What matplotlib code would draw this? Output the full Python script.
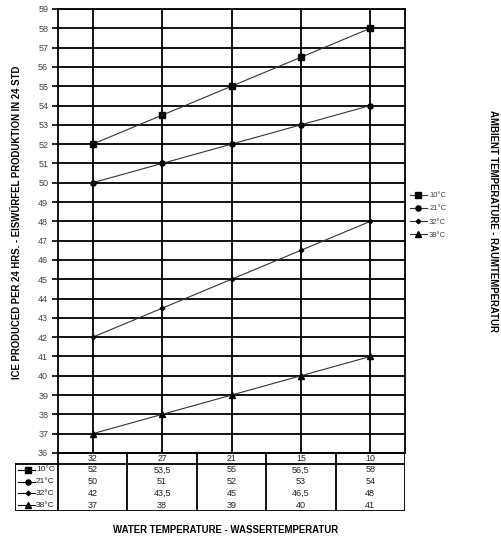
import matplotlib

matplotlib.use("Agg")
import matplotlib.pyplot as plt  # noqa: E402

plt.rcParams["font.family"] = ["Liberation Sans", "DejaVu Sans"]

# water temperature categories (x) and ice production per ambient temperature
water_temps = ["32", "27", "21", "15", "10"]
series_names = ["10°C", "21°C", "32°C", "38°C"]
ice_10 = [52, 53.5, 55, 56.5, 58]
ice_21 = [50, 51, 52, 53, 54]
ice_32 = [42, 43.5, 45, 46.5, 48]
ice_38 = [37, 38, 39, 40, 41]
series_values = [ice_10, ice_21, ice_32, ice_38]
table_text = [
    ["52", "53,5", "55", "56,5", "58"],
    ["50", "51", "52", "53", "54"],
    ["42", "43,5", "45", "46,5", "48"],
    ["37", "38", "39", "40", "41"],
]
y_ticks = list(range(36, 60))

markers = ["s", "o", "D", "^"]
msizes = [4.3, 3.7, 2.3, 4.0]

W, H = 501, 540
fig = plt.figure(figsize=(W / 100, H / 100), dpi=100)


def fx(px):
    return px / W


def fy(py):
    return 1 - py / H


# main chart
ax = fig.add_axes([fx(58), fy(453), fx(405 - 58), fy(9) - fy(453)])
xs = list(range(len(water_temps)))
for vals, m, ms, name in zip(series_values, markers, msizes, series_names):
    ax.plot(xs, vals, color="#333333", lw=0.8, marker=m, ms=ms,
            mfc="black", mec="black", label=name, zorder=3)
ax.set_xlim(-0.5, len(water_temps) - 0.5)
ax.set_ylim(36, 59)
ax.set_yticks(y_ticks)
ax.set_xticks(xs)
ax.tick_params(axis="x", length=0, labelbottom=False)
ax.tick_params(axis="y", length=4, width=1.2, labelsize=6.5, labelcolor="#444444",
               pad=3)
ax.grid(True, color="black", lw=1.3)
for s in ax.spines.values():
    s.set_linewidth(1.3)

ax.set_ylabel("ICE PRODUCED PER 24 HRS. - EISWÜRFEL PRODUKTION IN 24 STD",
              fontsize=6.9, fontweight="bold")
ax.yaxis.set_label_coords((22 - 58) / (405 - 58), (453 - 222) / 444)

leg = ax.legend(loc="upper left", bbox_to_anchor=(fx(407), fy(189)),
                bbox_transform=fig.transFigure, frameon=False, fontsize=5.5,
                handlelength=2.2, handletextpad=0.3, labelspacing=0.75,
                borderaxespad=0)
for t in leg.get_texts():
    t.set_color("#444444")

fig.text(fx(493), fy(221), "AMBIENT TEMPERATURE - RAUMTEMPERATUR", rotation=-90,
         ha="center", va="center", fontsize=6.9, fontweight="bold")

# data table below the chart
col_w = (405 - 58) / len(water_temps)
left_x = -0.5 - (58 - 15) / col_w
tab = fig.add_axes([fx(15), fy(511), fx(405 - 15), fy(453) - fy(511)])
tab.set_xlim(left_x, len(water_temps) - 0.5)
row_h = [11, 11.75, 11.75, 11.75, 11.75]
total = sum(row_h)
tab.set_ylim(total, 0)
tab.axis("off")
lw = 1.3
edges = [0]
for h in row_h:
    edges.append(edges[-1] + h)
# horizontal borders
tab.plot([-0.5, 4.5], [edges[0], edges[0]], color="black", lw=lw)
tab.plot([left_x, 4.5], [edges[1], edges[1]], color="black", lw=lw)
tab.plot([left_x, 4.5], [edges[-1], edges[-1]], color="black", lw=lw)
# vertical borders
tab.plot([left_x, left_x], [edges[1], edges[-1]], color="black", lw=lw)
for i in range(len(water_temps) + 1):
    tab.plot([i - 0.5, i - 0.5], [0, edges[-1]], color="black", lw=lw)

for i, lab in enumerate(water_temps):
    tab.text(i, (edges[0] + edges[1]) / 2, lab, ha="center", va="center",
             fontsize=6.3, color="#222222")
for r, (name, row) in enumerate(zip(series_names, table_text)):
    yc = (edges[r + 1] + edges[r + 2]) / 2
    for i, t in enumerate(row):
        tab.text(i, yc, t, ha="center", va="center", fontsize=6.5,
                 color="#222222")
    x0 = left_x + 3 / col_w
    x1 = left_x + 20 / col_w
    tab.plot([x0, x1], [yc, yc], color="black", lw=0.8)
    tab.plot([(x0 + x1) / 2 + 1 / col_w], [yc], marker=markers[r], ms=msizes[r],
             color="black", lw=0)
    tab.text(left_x + 21 / col_w, yc, name, ha="left", va="center",
             fontsize=6, color="#222222")

fig.text(fx(226), fy(530), "WATER TEMPERATURE - WASSERTEMPERATUR",
         ha="center", va="center", fontsize=6.9, fontweight="bold")

fig.savefig("out.png", dpi=100)
